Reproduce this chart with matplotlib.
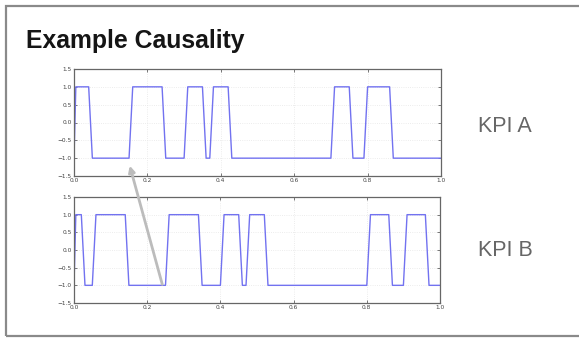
import matplotlib
matplotlib.use("Agg")
import matplotlib.pyplot as plt
from matplotlib.patches import FancyArrowPatch, Rectangle

# ---- data (vertices of each KPI trace) ----
kpi_a_x = [0.00, 0.005, 0.04, 0.05, 0.15, 0.16, 0.24, 0.25, 0.30, 0.31, 0.35, 0.36,
           0.37, 0.38, 0.42, 0.43, 0.70, 0.71, 0.75, 0.76, 0.79, 0.80, 0.86, 0.87, 1.00]
kpi_a_y = [-1, 1, 1, -1, -1, 1, 1, -1, -1, 1, 1, -1,
           -1, 1, 1, -1, -1, 1, 1, -1, -1, 1, 1, -1, -1]

kpi_b_x = [0.00, 0.005, 0.02, 0.03, 0.05, 0.06, 0.14, 0.15, 0.25, 0.26, 0.34, 0.35,
           0.40, 0.41, 0.45, 0.46, 0.47, 0.48, 0.52, 0.53, 0.80, 0.81, 0.86, 0.87,
           0.90, 0.91, 0.96, 0.97, 1.00]
kpi_b_y = [-1, 1, 1, -1, -1, 1, 1, -1, -1, 1, 1, -1,
           -1, 1, 1, -1, -1, 1, 1, -1, -1, 1, 1, -1,
           -1, 1, 1, -1, -1]

x_ticks = [0.0, 0.2, 0.4, 0.6, 0.8, 1.0]
y_ticks = [-1.5, -1.0, -0.5, 0.0, 0.5, 1.0, 1.5]
title = "Example Causality"
labels = ["KPI A", "KPI B"]

W, H = 579, 338
fig = plt.figure(figsize=(W / 100, H / 100), dpi=100)
fig.patch.set_facecolor("white")

# slide frame
fig.add_artist(Rectangle((6 / W, 1 - 336 / H), 600 / W, 330 / H, transform=fig.transFigure,
                         fill=False, edgecolor="#8a8a8a", linewidth=1.6))

fig.text(26 / W, 1 - 48 / H, title, fontsize=17.8, fontweight="bold",
         family="Liberation Sans", color="#151515", va="baseline", ha="left")

axes_rects = [
    (74 / W, 1 - 176 / H, 367 / W, 107 / H),
    (74 / W, 1 - 303 / H, 366 / W, 106 / H),
]
series = [(kpi_a_x, kpi_a_y), (kpi_b_x, kpi_b_y)]
label_y = [126, 251]

for rect, (xs, ys), lab, ly in zip(axes_rects, series, labels, label_y):
    ax = fig.add_axes(rect)
    ax.plot(xs, ys, color="#7272f0", linewidth=1.0)
    ax.set_xlim(0, 1)
    ax.set_ylim(-1.5, 1.5)
    ax.set_xticks(x_ticks)
    ax.set_yticks(y_ticks)
    ax.set_xticklabels([f"{t:.1f}" for t in x_ticks])
    ax.set_yticklabels([f"{t:.1f}".replace("-", "\u2212") for t in y_ticks])
    ax.tick_params(direction="in", length=2.5, width=0.5, labelsize=4.2,
                   colors="#444444", pad=1.5, top=True, right=True)
    ax.grid(True, color="#e6e6e6", linestyle=":", linewidth=0.6)
    for s in ax.spines.values():
        s.set_color("#666666")
        s.set_linewidth(0.9)
    fig.text(478 / W, 1 - ly / H, lab, fontsize=15.5, family="Liberation Sans",
             color="#666666", va="center", ha="left")

# causality arrow
fig.add_artist(FancyArrowPatch((163 / W, 1 - 287 / H), (129 / W, 1 - 163 / H),
                               transform=fig.transFigure, arrowstyle="-|>",
                               mutation_scale=9, color="#bcbcbc", linewidth=2.0))

fig.savefig("out.png", dpi=100, facecolor="white")
